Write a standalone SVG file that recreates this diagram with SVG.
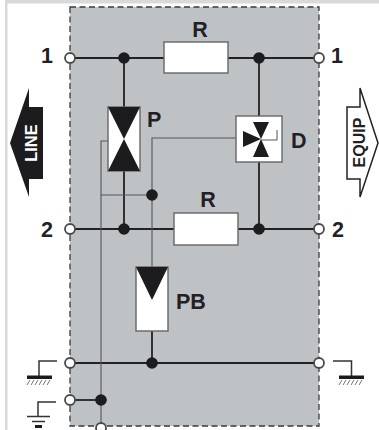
<svg xmlns="http://www.w3.org/2000/svg" width="379" height="430" viewBox="0 0 379 430">
  <style>
    .w{fill:none;stroke:#222;stroke-width:1.8}
    .t{fill:none;stroke:#555;stroke-width:1.1}
    .j{fill:#1c1c1e;stroke:none}
    .o{fill:#fff;stroke:#4a4a4a;stroke-width:1.8}
    .b{fill:#fff;stroke:#666;stroke-width:1.4}
    .k{fill:#1c1c1e;stroke:none}
    .g{fill:none;stroke:#333;stroke-width:1.5}
    .h{fill:none;stroke:#777;stroke-width:1}
    text{font-family:"Liberation Sans",Arial,sans-serif;font-weight:700;fill:#1f2126}
    .l{font-size:21.5px}
  </style>
  <rect width="379" height="430" fill="#fff"/>
  <rect x="5" y="0" width="374" height="3.5" fill="#d9d9d9"/>
  <rect x="5" y="0" width="2.5" height="430" fill="#d9d9d9"/>
  <rect id="panel" x="70" y="7" width="249" height="419" fill="#bfc2c5" stroke="#3a3a3a" stroke-width="1.3" stroke-dasharray="6 3.5"/>

  <g id="connectors">
    <path class="w" d="M70 58H164M228 58H319"/>
    <path class="w" d="M124 58V107M124 171V229"/>
    <path class="w" d="M259 58V116M259 162V229"/>
    <path class="w" d="M70 229H174M238 229H319"/>
    <path class="w" d="M70 363H319"/>
    <path class="w" d="M152 331V363"/>
    <path class="w" d="M70 400H101"/>
    <path class="t" d="M108 141H101V428"/>
    <path class="t" d="M101 195H152"/>
    <path class="t" d="M236 138H152V267"/>
    <circle class="j" cx="124" cy="58" r="5.8"/>
    <circle class="j" cx="259" cy="58" r="5.8"/>
    <circle class="j" cx="152" cy="195" r="5.8"/>
    <circle class="j" cx="124" cy="229" r="5.8"/>
    <circle class="j" cx="259" cy="229" r="5.8"/>
    <circle class="j" cx="152" cy="363" r="5.8"/>
    <circle class="j" cx="101" cy="400" r="5.8"/>
  </g>

  <g id="R1"><rect class="b" x="164" y="42" width="64" height="31"/><text class="l" x="200" y="37" text-anchor="middle">R</text></g>
  <g id="R2"><rect class="b" x="174" y="213" width="64" height="32"/><text class="l" x="208" y="207" text-anchor="middle">R</text></g>
  <g id="P">
    <rect class="b" x="108" y="107" width="32" height="64"/>
    <path class="k" d="M108 107H140L124 139ZM108 171H140L124 139Z"/>
    <text class="l" x="147" y="127">P</text>
  </g>
  <g id="D">
    <rect class="b" x="236" y="116" width="46" height="46"/>
    <path class="k" d="M253 122H269L261 139ZM253 157H269L261 139ZM243 131L261 139L243 147Z"/>
    <path fill="none" stroke="#555" stroke-width="1" d="M261 140H277V130"/>
    <text class="l" x="291" y="148">D</text>
  </g>
  <g id="PB">
    <rect class="b" x="136" y="267" width="32" height="64"/>
    <path class="k" d="M136 267H168L152 300Z"/>
    <text class="l" x="176" y="309">PB</text>
  </g>

  <g id="terminals">
    <circle class="o" cx="70" cy="58" r="5"/>
    <circle class="o" cx="319" cy="58" r="5"/>
    <circle class="o" cx="70" cy="229" r="5"/>
    <circle class="o" cx="319" cy="229" r="5"/>
    <circle class="o" cx="70" cy="363" r="5"/>
    <circle class="o" cx="319" cy="363" r="5"/>
    <circle class="o" cx="70" cy="400" r="5"/>
    <circle class="o" cx="101" cy="428" r="5"/>
    <text class="l" x="41" y="63">1</text>
    <text class="l" x="331" y="63">1</text>
    <text class="l" x="41" y="237">2</text>
    <text class="l" x="332" y="237">2</text>
  </g>

  <g id="line-arrow">
    <path class="k" d="M10 143L29 88V107H43V179H29V197Z"/>
    <text transform="translate(37 143) rotate(-90)" text-anchor="middle" font-size="16.500" style="fill:#fff">LINE</text>
  </g>
  <g id="equip-arrow">
    <path fill="#fff" stroke="#222" stroke-width="1.5" d="M347 107H360V88L378 143L360 197V179H347Z"/>
    <text transform="translate(365 142.500) rotate(-90)" text-anchor="middle" font-size="16">EQUIP</text>
  </g>

  <g id="earth-left">
    <path class="g" d="M57 361H39V376"/>
    <rect class="k" x="27" y="375.500" width="25" height="3.500"/>
    <path class="h" d="M27 385L30 380M31 385L34 380M35 385L38 380M39 385L42 380M43 385L46 380M47 385L50 380"/>
  </g>
  <g id="ground-left">
    <path class="g" d="M56 402H38V416"/>
    <path class="g" d="M27 416.500H50"/>
    <path class="g" d="M32 421.500H45"/>
    <rect class="k" x="35" y="425" width="7" height="3"/>
  </g>
  <g id="earth-right">
    <path class="g" d="M333 361H351.500V376"/>
    <rect class="k" x="339" y="375.500" width="25" height="3.500"/>
    <path class="h" d="M339 385L342 380M343 385L346 380M347 385L350 380M351 385L354 380M355 385L358 380M359 385L362 380"/>
  </g>
</svg>
